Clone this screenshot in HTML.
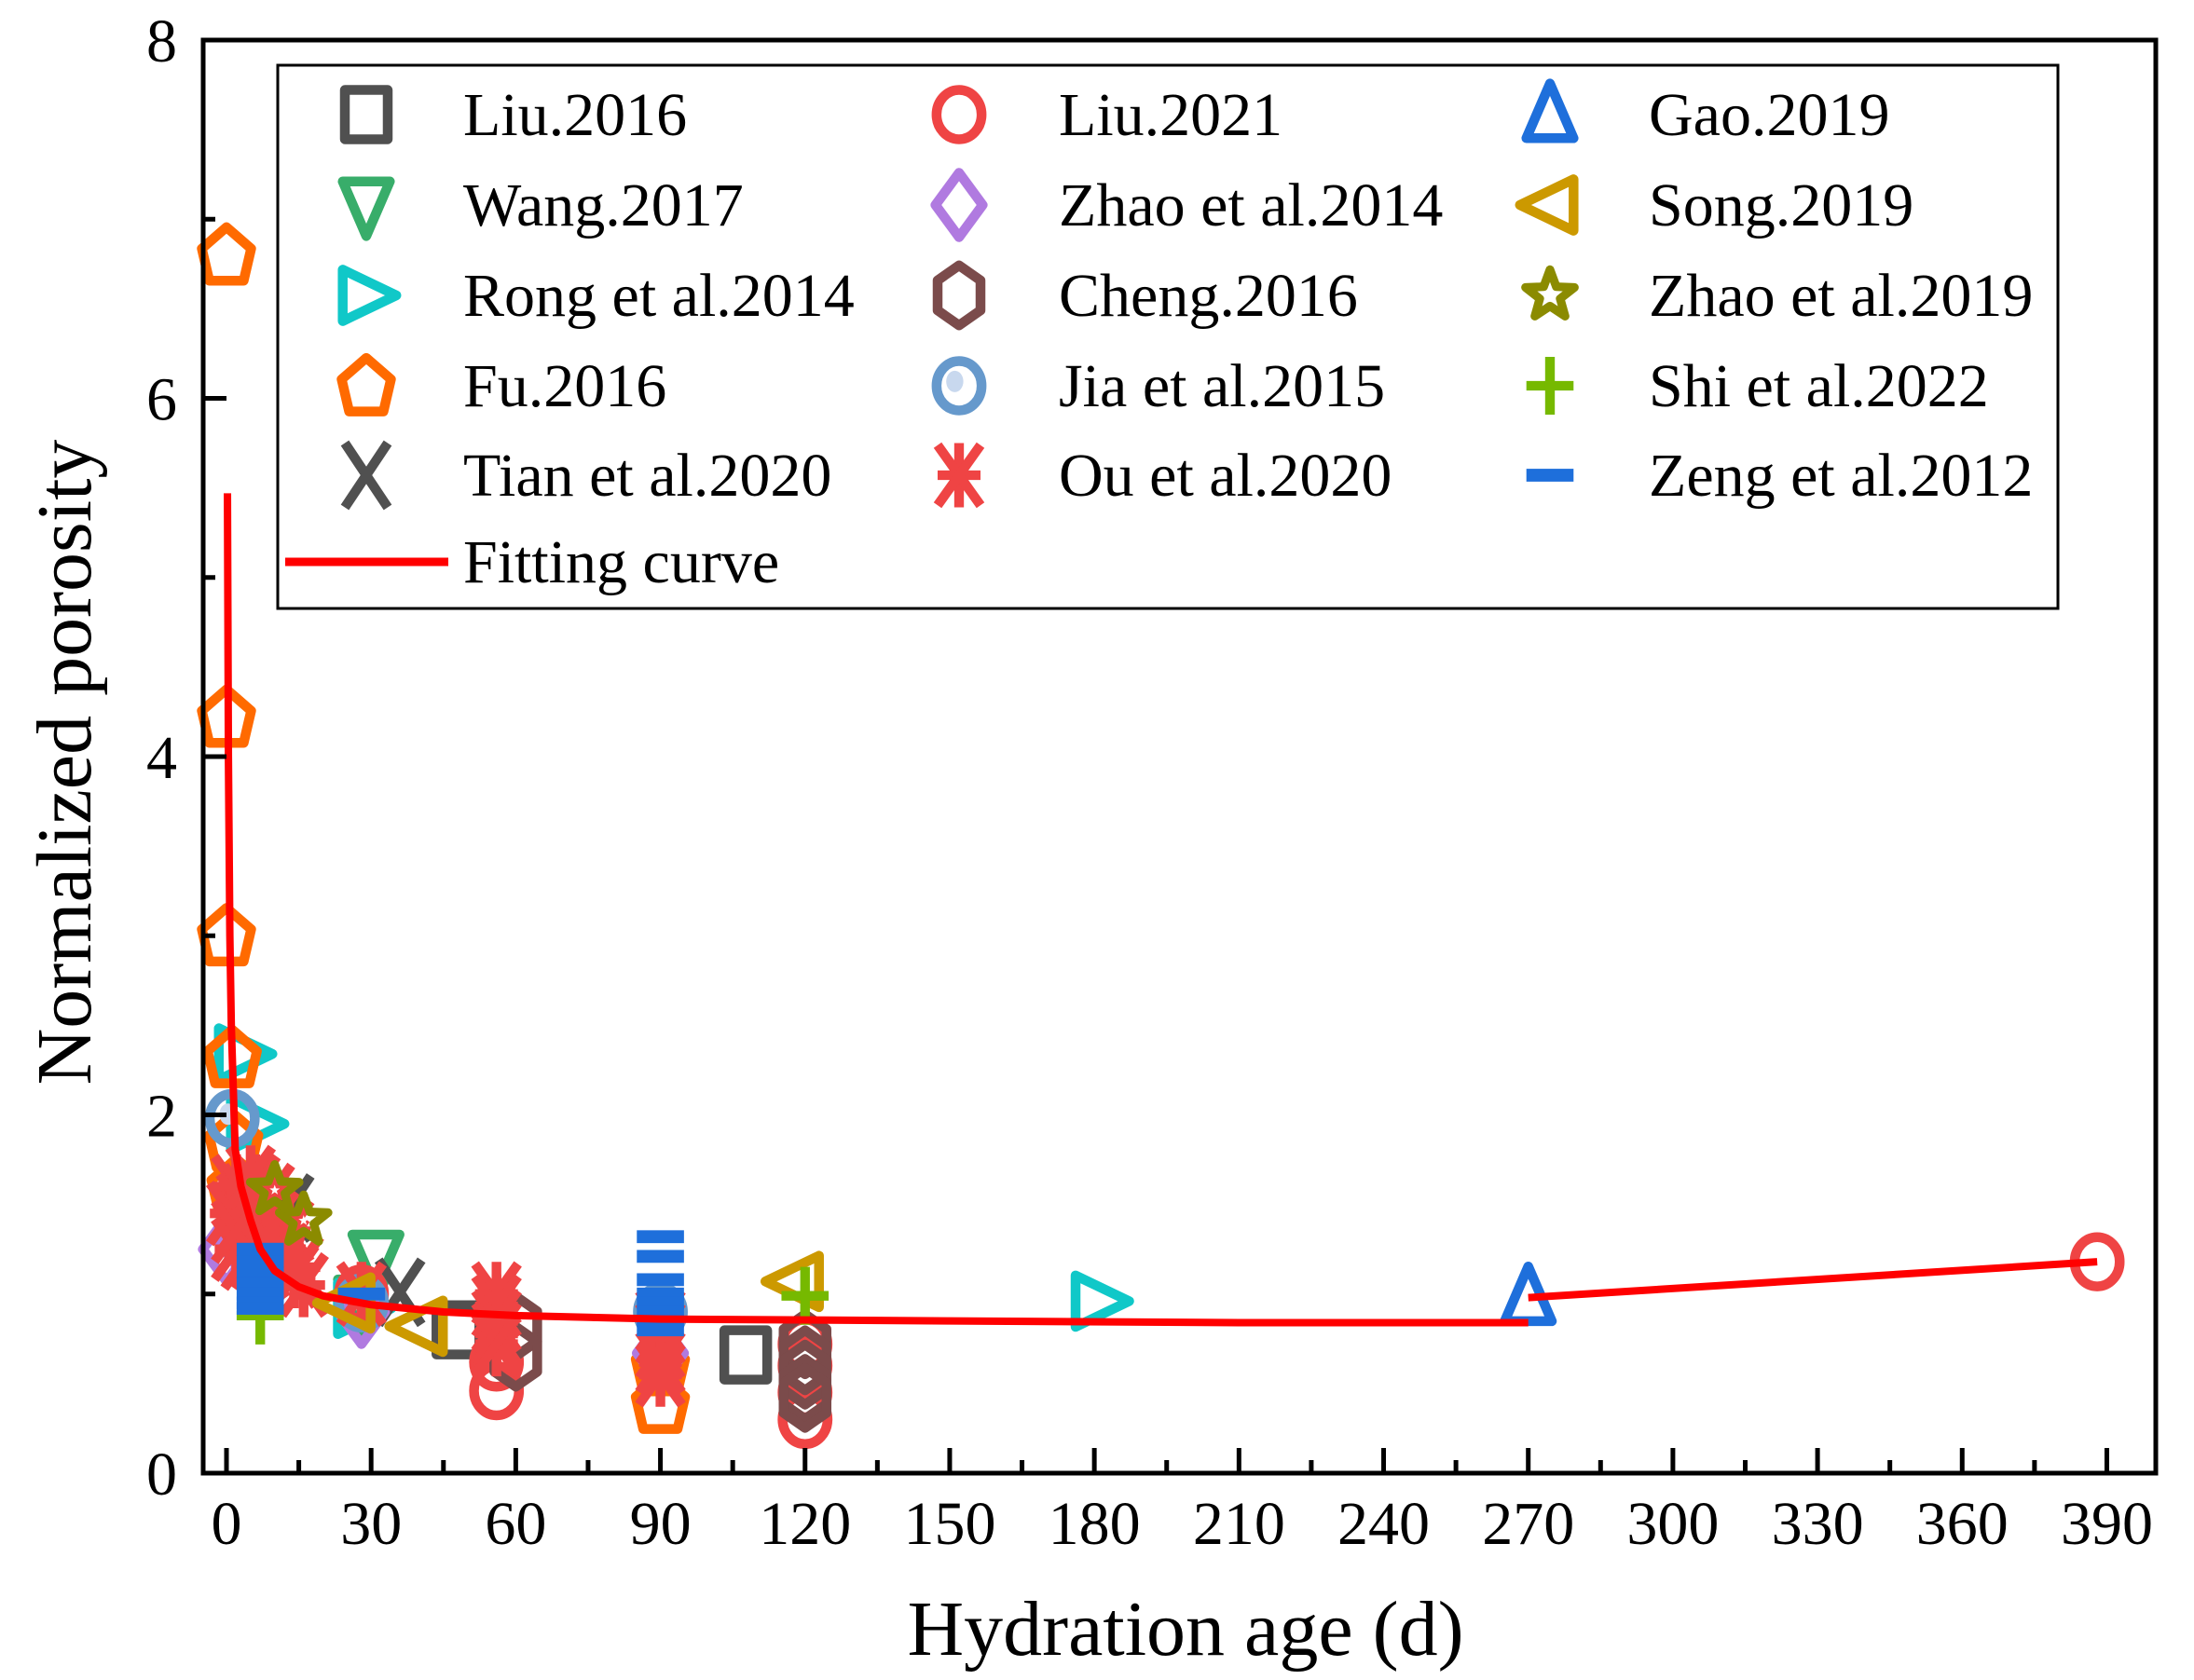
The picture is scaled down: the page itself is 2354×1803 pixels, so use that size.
<!DOCTYPE html>
<html><head><meta charset="utf-8"><style>
html,body{margin:0;padding:0;background:#fff;}
svg{display:block;font-family:"Liberation Serif","DejaVu Serif",serif;}
</style></head><body>
<svg id="chart" width="2354" height="1803" viewBox="0 0 2354 1803" xmlns="http://www.w3.org/2000/svg">
<rect x="0" y="0" width="2354" height="1803" fill="#fff"/>
<g id="marks"></g>
<g id="axes"></g>
<g id="legend"></g>
</svg>
<script>
// ---- data ----
const xTicks = [0,30,60,90,120,150,180,210,240,270,300,330,360,390];
const yTicks = [0,2,4,6,8];
const curveX = [0.2,0.4,0.7,1.0,1.8,3,5,7,10,15,20,30,45,60,90,150,210,270];
const curveY = [5.47,4.0,3.0,2.5,1.81,1.6,1.41,1.25,1.13,1.04,0.99,0.94,0.9,0.88,0.86,0.85,0.84,0.84];
const curve2X = [270,388];
const curve2Y = [0.98,1.18];

const liu2016X = [48,107.7];           const liu2016Y = [0.80,0.66];
const liu2021X = [56,56,120,120,120,120,28,388]; const liu2021Y = [0.46,0.62,0.30,0.45,0.60,0.72,1.0,1.18];
const gaoX = [270];                     const gaoY = [0.98];
const wangX = [31,28];                  const wangY = [1.2,0.95];
const zhao14X = [0,28,90,3];            const zhao14Y = [1.25,0.9,0.67,1.3];
const songX = [40,25,118];              const songY = [0.82,0.95,1.07];
const rongX = [3.3,5.8,28,181];         const rongY = [2.34,1.95,0.92,0.96];
const chengX = [60,60,120,120,120,120,120]; const chengY = [0.82,0.65,0.72,0.63,0.55,0.47,0.42];
const zhao19X = [16,10];                const zhao19Y = [1.41,1.58];
const fuX = [0,0,0,1.2,1.5,2,90,90];    const fuY = [6.8,4.22,3.0,2.32,1.85,1.6,0.39,0.6];
const jiaX = [1.2,28,90];               const jiaY = [1.98,0.95,0.9];
const shiX = [120,7];                   const shiY = [0.99,0.88];
const tianX = [36,13];                  const tianY = [1.01,1.48];
const ouX = [2,4,6,8,10,3,5,7,9,12,2,4,6,8,11,14,3,6,9,13,16,28,56,56,56,56,56,90,90,90,90,90,1,2,5,12,15];
const ouY = [1.6,1.55,1.5,1.45,1.4,1.4,1.35,1.3,1.3,1.25,1.25,1.2,1.2,1.15,1.15,1.1,1.5,1.6,1.55,1.35,1.05,1.0,1.0,0.93,0.85,0.78,0.72,0.85,0.78,0.7,0.62,0.55,1.45,1.35,1.65,1.2,1.15];
const zengX = [7,7,7,7,7,7,7,28,90,90,90,90,90,90,90,90];
const zengY = [1.25,1.18,1.12,1.06,1.0,0.95,0.92,1.0,1.32,1.21,1.08,1.0,0.95,0.9,0.85,0.8];

// ---- scales ----
const X0=243, XK=5.173, Y0=1581, YK=192.25;
const L=218,R=2313,T=43,B=1581;
const sx=v=>X0+v*XK, sy=v=>Y0-v*YK;
const NS="http://www.w3.org/2000/svg";
function mk(tag,attrs,parent){const e=document.createElementNS(NS,tag);for(const k in attrs)e.setAttribute(k,attrs[k]);parent.appendChild(e);return e;}

const K=1.15, SW=10;
function marker(shape,color,cx,cy,parent){
  const g=mk('g',{transform:'translate('+cx+','+cy+') scale('+K+')'},parent);
  const st={fill:'none',stroke:color,'stroke-width':SW/K*1.05,'stroke-linejoin':'round'};
  const poly=pts=>mk('polygon',Object.assign({points:pts.map(p=>p[0]+','+p[1]).join(' ')},st),g);
  if(shape==='square') mk('rect',Object.assign({x:-20,y:-23,width:40,height:46},st),g);
  else if(shape==='circle') mk('ellipse',Object.assign({cx:0,cy:0,rx:21,ry:23},st),g);
  else if(shape==='up') poly([[0,-29],[22,22],[-22,22]]);
  else if(shape==='down') poly([[0,29],[22,-22],[-22,-22]]);
  else if(shape==='left') poly([[-28,0],[22,-24],[22,24]]);
  else if(shape==='right') poly([[28,0],[-22,-24],[-22,24]]);
  else if(shape==='diamond') poly([[0,-30],[22,0],[0,30],[-22,0]]);
  else if(shape==='hex') poly([[0,-28],[20,-14],[20,14],[0,28],[-20,14],[-20,-14]]);
  else if(shape==='pent') poly([[0,-26],[23,-6],[16,24],[-16,24],[-23,-6]]);
  else if(shape==='jia'){ mk('ellipse',Object.assign({cx:0,cy:0,rx:21,ry:23},st),g); mk('ellipse',{cx:-4,cy:-4,rx:8,ry:10,fill:'#c8d8ee'},g);}
  else if(shape==='star'){const p=[];for(let i=0;i<10;i++){const r=i%2?10:24,a=-Math.PI/2+i*Math.PI/5;p.push([r*Math.cos(a),r*Math.sin(a)]);}
    poly(p).setAttribute('stroke-width',8);
    const q=[];for(let i=0;i<10;i++){const r=i%2?2:5,a=-Math.PI/2+i*Math.PI/5;q.push([r*Math.cos(a),r*Math.sin(a)]);}
    mk('polygon',{points:q.map(p=>p[0]+','+p[1]).join(' '),fill:'#fff'},g);}
  else if(shape==='plus'){mk('line',{x1:-22,y1:0,x2:22,y2:0,stroke:color,'stroke-width':9},g);mk('line',{x1:0,y1:-27,x2:0,y2:27,stroke:color,'stroke-width':9},g);}
  else if(shape==='x'){mk('line',{x1:-20,y1:-30,x2:20,y2:30,stroke:color,'stroke-width':9},g);mk('line',{x1:20,y1:-30,x2:-20,y2:30,stroke:color,'stroke-width':9},g);}
  else if(shape==='ast'){const o={stroke:color,'stroke-width':9};mk('line',Object.assign({x1:0,y1:-30,x2:0,y2:30},o),g);mk('line',Object.assign({x1:-20,y1:0,x2:20,y2:0},o),g);
    mk('line',Object.assign({x1:-20,y1:-28,x2:20,y2:28},o),g);mk('line',Object.assign({x1:20,y1:-28,x2:-20,y2:28},o),g);}
  else if(shape==='dash') mk('rect',{x:-22,y:-6,width:44,height:12,fill:color},g);
  return g;
}

const series=[
 {name:'Liu.2016',shape:'square',color:'#505050',xs:liu2016X,ys:liu2016Y,col:0,row:0,id:'liu-2016'},
 {name:'Wang.2017',shape:'down',color:'#38ad6a',xs:wangX,ys:wangY,col:0,row:1,id:'wang-2017'},
 {name:'Rong et al.2014',shape:'right',color:'#10c8c8',xs:rongX,ys:rongY,col:0,row:2,id:'rong-2014'},
 {name:'Fu.2016',shape:'pent',color:'#ff6a00',xs:fuX,ys:fuY,col:0,row:3,id:'fu-2016'},
 {name:'Tian et al.2020',shape:'x',color:'#505050',xs:tianX,ys:tianY,col:0,row:4,id:'tian-2020'},
 {name:'Liu.2021',shape:'circle',color:'#ef4444',xs:liu2021X,ys:liu2021Y,col:1,row:0,id:'liu-2021'},
 {name:'Zhao et al.2014',shape:'diamond',color:'#b07ae0',xs:zhao14X,ys:zhao14Y,col:1,row:1,id:'zhao-2014'},
 {name:'Cheng.2016',shape:'hex',color:'#7b4b4b',xs:chengX,ys:chengY,col:1,row:2,id:'cheng-2016'},
 {name:'Jia et al.2015',shape:'jia',color:'#6699cc',xs:jiaX,ys:jiaY,col:1,row:3,id:'jia-2015'},
 {name:'Ou et al.2020',shape:'ast',color:'#ef4444',xs:ouX,ys:ouY,col:1,row:4,id:'ou-2020'},
 {name:'Gao.2019',shape:'up',color:'#1e6fdb',xs:gaoX,ys:gaoY,col:2,row:0,id:'gao-2019'},
 {name:'Song.2019',shape:'left',color:'#cc9900',xs:songX,ys:songY,col:2,row:1,id:'song-2019'},
 {name:'Zhao et al.2019',shape:'star',color:'#8b8b00',xs:zhao19X,ys:zhao19Y,col:2,row:2,id:'zhao-2019'},
 {name:'Shi et al.2022',shape:'plus',color:'#76b900',xs:shiX,ys:shiY,col:2,row:3,id:'shi-2022'},
 {name:'Zeng et al.2012',shape:'dash',color:'#1e6fdb',xs:zengX,ys:zengY,col:2,row:4,id:'zeng-2012'}
];

const marks=document.getElementById('marks');
series.forEach(s=>{
  const g=mk('g',{},marks);
  
  
  s.xs.forEach((v,i)=>{
    const m=marker(s.shape,s.color,sx(v),sy(s.ys[i]),g);
    
    
  });
});
// fitting curve
const c1=mk('polyline',{points:curveX.map((v,i)=>sx(v)+','+sy(curveY[i])).join(' '),fill:'none',stroke:'#ff0000','stroke-width':8,'stroke-linejoin':'round'},marks);


const c2=mk('polyline',{points:curve2X.map((v,i)=>sx(v)+','+sy(curve2Y[i])).join(' '),fill:'none',stroke:'#ff0000','stroke-width':8},marks);



// axes
const ax=document.getElementById('axes');
const frame=mk('rect',{x:L,y:T,width:R-L,height:B-T,fill:'none',stroke:'#000','stroke-width':5},ax);


xTicks.forEach(v=>{
  mk('line',{x1:sx(v),y1:B,x2:sx(v),y2:B-27,stroke:'#000','stroke-width':5},ax);
  const t=mk('text',{x:sx(v),y:1657,'text-anchor':'middle','font-size':66},ax);
  t.textContent=v;
  
  
});
xTicks.slice(0,-1).forEach(v=>{const m=v+15;mk('line',{x1:sx(m),y1:B,x2:sx(m),y2:B-14,stroke:'#000','stroke-width':5},ax);});
yTicks.forEach(v=>{
  mk('line',{x1:L,y1:sy(v),x2:L+25,y2:sy(v),stroke:'#000','stroke-width':5},ax);
  const t=mk('text',{x:190,y:sy(v)+23,'text-anchor':'end','font-size':66},ax);
  t.textContent=v;
  
  
});
yTicks.slice(0,-1).forEach(v=>{mk('line',{x1:L,y1:sy(v+1),x2:L+13,y2:sy(v+1),stroke:'#000','stroke-width':5},ax);});
const xt=mk('text',{x:1272,y:1776,'text-anchor':'middle','font-size':84},ax);
xt.textContent='Hydration age (d)';


const yt=mk('text',{x:0,y:0,'text-anchor':'middle','font-size':84,transform:'translate(97,818) rotate(-90)'},ax);
yt.textContent='Normalized porosity';



// legend
const lg=document.getElementById('legend');
const lb=mk('rect',{x:298,y:70,width:1910,height:583,fill:'#fff',stroke:'#000','stroke-width':3},lg);


const colM=[393,1029,1663], colT=[497,1136,1769], rowY=[123,220,317,414,510];
series.forEach(s=>{
  const g=mk('g',{},lg);
  
  
  marker(s.shape,s.color,colM[s.col],rowY[s.row],g);
  const t=mk('text',{x:colT[s.col],y:rowY[s.row]+22,'font-size':66},g);
  t.textContent=s.name;
});
const fg=mk('g',{},lg);


mk('line',{x1:306,y1:603,x2:481,y2:603,stroke:'#ff0000','stroke-width':9},fg);
const ft=mk('text',{x:497,y:625,'font-size':66},fg);
ft.textContent='Fitting curve';
</script>
</body></html>
